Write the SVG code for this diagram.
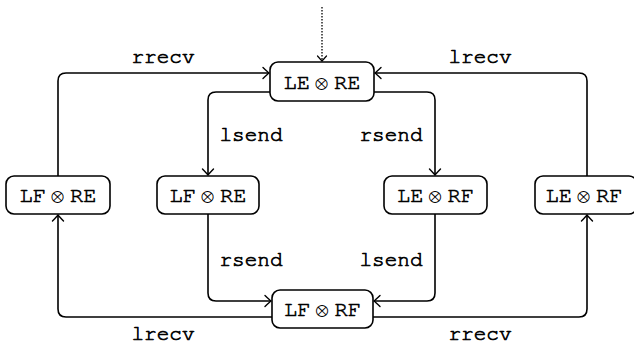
<svg xmlns="http://www.w3.org/2000/svg" width="634" height="350" viewBox="0 0 634 350">
<defs>
<style>
.node rect{fill:#fff;stroke:#000;stroke-width:1.6}
.nl{font-family:FreeMono,"Nimbus Mono PS","Courier New",monospace;font-size:22px;text-anchor:middle;fill:#000;stroke:#000;stroke-width:0.6;stroke-linejoin:round}
.ot{font-family:FreeSerif,"DejaVu Serif",serif;font-size:20px;stroke-width:0}
.lbl{font-family:FreeMono,"Nimbus Mono PS","Courier New",monospace;font-size:21px;text-anchor:middle;fill:#000;stroke:#000;stroke-width:0.7;stroke-linejoin:round}
.edge{fill:none;stroke:#000;stroke-width:1.6;marker-end:url(#arr)}
.init{fill:none;stroke:#000;stroke-width:1.3;stroke-dasharray:1.5 1.5;marker-end:url(#arr2)}
</style>
<marker id="arr" markerUnits="userSpaceOnUse" viewBox="-9 -7 11 14" refX="0" refY="0" markerWidth="11" markerHeight="14" orient="auto" overflow="visible">
<path d="M-6,-5.5 Q-1.5,-1.2 0,0 Q-1.5,1.2 -6,5.5" fill="none" stroke="#000" stroke-width="1.4" stroke-linecap="round"/>
</marker>
<marker id="arr2" markerUnits="userSpaceOnUse" viewBox="-9 -7 11 14" refX="0" refY="0" markerWidth="11" markerHeight="14" orient="auto" overflow="visible">
<path d="M-5,-4.5 Q-1.2,-1 0,0 Q-1.2,1 -5,4.5" fill="none" stroke="#000" stroke-width="1.2" stroke-linecap="round"/>
</marker>
</defs>
<rect width="634" height="350" fill="#fff"/>
<g id="connectors">
<path class="init" d="M322,7 V61"/>
<path class="edge" d="M58,176 V81 Q58,73 66,73 H269"/>
<path class="edge" d="M587,176 V81 Q587,73 579,73 H375"/>
<path class="edge" d="M270,92 H216 Q208,92 208,100 V175"/>
<path class="edge" d="M374,92 H427 Q435,92 435,100 V175"/>
<path class="edge" d="M208,214 V293 Q208,301 216,301 H271"/>
<path class="edge" d="M435,214 V293 Q435,301 427,301 H374"/>
<path class="edge" d="M272,317 H66 Q58,317 58,309 V215"/>
<path class="edge" d="M373,317 H579 Q587,317 587,309 V215"/>
<text class="lbl" x="163" y="63">rrecv</text>
<text class="lbl" x="480" y="63">lrecv</text>
<text class="lbl" x="251" y="141">lsend</text>
<text class="lbl" x="391" y="141">rsend</text>
<text class="lbl" x="251" y="266">rsend</text>
<text class="lbl" x="391" y="266">lsend</text>
<text class="lbl" x="163" y="340">lrecv</text>
<text class="lbl" x="480" y="340">rrecv</text>
</g>
<g id="n_top" class="node"><rect x="270" y="62" width="104" height="39" rx="8"/><text class="nl" x="322" y="89">LE<tspan class="ot" dx="5">⊗</tspan><tspan dx="6">RE</tspan></text></g>
<g id="n_left" class="node"><rect x="6" y="176" width="104" height="38" rx="8"/><text class="nl" x="58" y="202">LF<tspan class="ot" dx="5">⊗</tspan><tspan dx="6">RE</tspan></text></g>
<g id="n_inl" class="node"><rect x="157" y="176" width="102" height="38" rx="8"/><text class="nl" x="208" y="202">LF<tspan class="ot" dx="5">⊗</tspan><tspan dx="6">RE</tspan></text></g>
<g id="n_inr" class="node"><rect x="384" y="176" width="103" height="38" rx="8"/><text class="nl" x="435.5" y="202">LE<tspan class="ot" dx="5">⊗</tspan><tspan dx="6">RF</tspan></text></g>
<g id="n_right" class="node"><rect x="535" y="176" width="102" height="38" rx="8"/><text class="nl" x="584" y="202">LE<tspan class="ot" dx="5">⊗</tspan><tspan dx="6">RF</tspan></text></g>
<g id="n_bot" class="node"><rect x="272" y="290" width="101" height="38" rx="8"/><text class="nl" x="322.5" y="316">LF<tspan class="ot" dx="5">⊗</tspan><tspan dx="6">RF</tspan></text></g>
</svg>
